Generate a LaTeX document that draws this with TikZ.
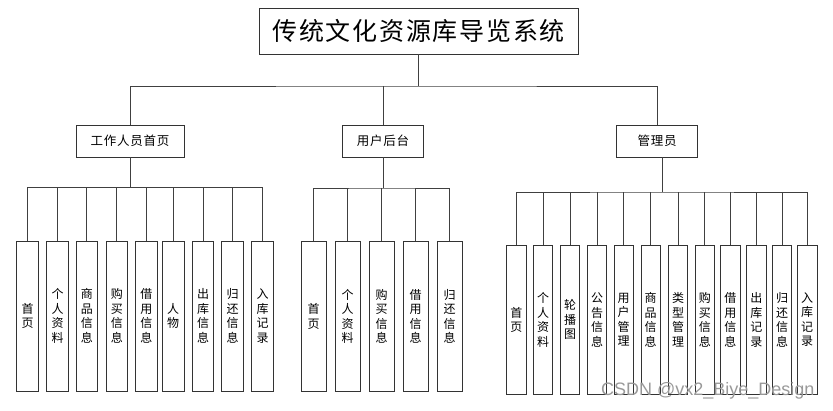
\documentclass[tikz,border=0pt]{standalone}
\usepackage{fontspec}
\setmainfont{Liberation Sans}
\newfontfamily\cjk{Noto Sans CJK SC}
\newfontfamily\cjkwide[LetterSpace=7]{Noto Sans CJK SC}
\newfontfamily\cjkrole[LetterSpace=6]{Noto Sans CJK SC}
\begin{document}
\begin{tikzpicture}[
    x=1pt, y=-1pt,
    box/.style={draw=black!80, line width=0.8pt, fill=white, inner sep=0pt},
    title/.style={box, minimum width=319pt, minimum height=46pt, font=\cjkwide\fontsize{25}{30}\selectfont},
    role/.style={box, minimum width=81pt, minimum height=32pt, font=\cjkrole\fontsize{12.5}{15}\selectfont},
    leaf/.style={box, minimum height=150pt, align=center, font=\cjk\fontsize{12}{14.5}\selectfont},
    wire/.style={draw=black!75, line width=0.8pt},
]
\useasboundingbox (0,0) rectangle (833,410);

% === Top level ===
\node[title] (root) at (418.5,31) {传统文化资源库导览系统};

\node[role, minimum width=108pt] (staff) at (130,141) {工作人员首页};
\node[role] (user) at (383,141) {用户后台};
\node[role] (admin) at (657,141) {管理员};

\coordinate (j0) at (418.5,86);
\draw[wire] (root.south) -- (j0);
\draw[wire] (staff.north) |- (j0) -| (admin.north);
\draw[wire] (user.north) -- (user.north |- j0);

% === Staff pages (left) ===
\foreach \x/\t [count=\i] in {27.5/首\\页, 57.5/个\\人\\资\\料, 86.8/商\\品\\信\\息,
    116.8/购\\买\\信\\息, 146.3/借\\用\\信\\息, 173.2/人\\物, 203/出\\库\\信\\息,
    232.5/归\\还\\信\\息, 262.5/入\\库\\记\\录}
    \node[leaf, minimum width=21.7pt] (s\i) at (\x,316) {\t};

\coordinate (ja) at (130,187.5);
\draw[wire] (staff.south) -- (ja);
\draw[wire] (s1.north) |- (ja) -| (s9.north);
\foreach \i in {2,...,8}
    \draw[wire] (s\i.north) -- (s\i.north |- ja);

% === User backend (middle) ===
\foreach \x/\t [count=\i] in {313.7/首\\页, 347.7/个\\人\\资\\料, 381.7/购\\买\\信\\息,
    415.7/借\\用\\信\\息, 449.7/归\\还\\信\\息}
    \node[leaf, minimum width=24.7pt] (u\i) at (\x,316.3) {\t};

\coordinate (jb) at (383,188);
\draw[wire] (user.south) -- (jb);
\draw[wire] (u1.north) |- (jb) -| (u5.north);
\foreach \i in {2,...,4}
    \draw[wire] (u\i.north) -- (u\i.north |- jb);

% === Admin (right) ===
\foreach \x/\t [count=\i] in {516.3/首\\页, 543/个\\人\\资\\料, 570/轮\\播\\图,
    597/公\\告\\信\\息, 623.7/用\\户\\管\\理, 650.7/商\\品\\信\\息, 678/类\\型\\管\\理,
    704.8/购\\买\\信\\息, 730.3/借\\用\\信\\息, 756.3/出\\库\\记\\录,
    782/归\\还\\信\\息, 807.2/入\\库\\记\\录}
    \node[leaf, minimum width=19.5pt, minimum height=149pt] (a\i) at (\x,319.8) {\t};

\coordinate (jc) at (662,192);
\draw[wire] (admin.south -| jc) -- (jc);
\draw[wire] (a1.north) |- (jc) -| (a12.north);
\foreach \i in {2,...,11}
    \draw[wire] (a\i.north) -- (a\i.north |- jc);

% Watermark
\node[anchor=base west, inner sep=0pt, text=black!40, font=\fontsize{18}{18}\selectfont] (mark) at (601,395) {CSDN @vx2\_Biye\_Design};

\end{tikzpicture}
\end{document}
